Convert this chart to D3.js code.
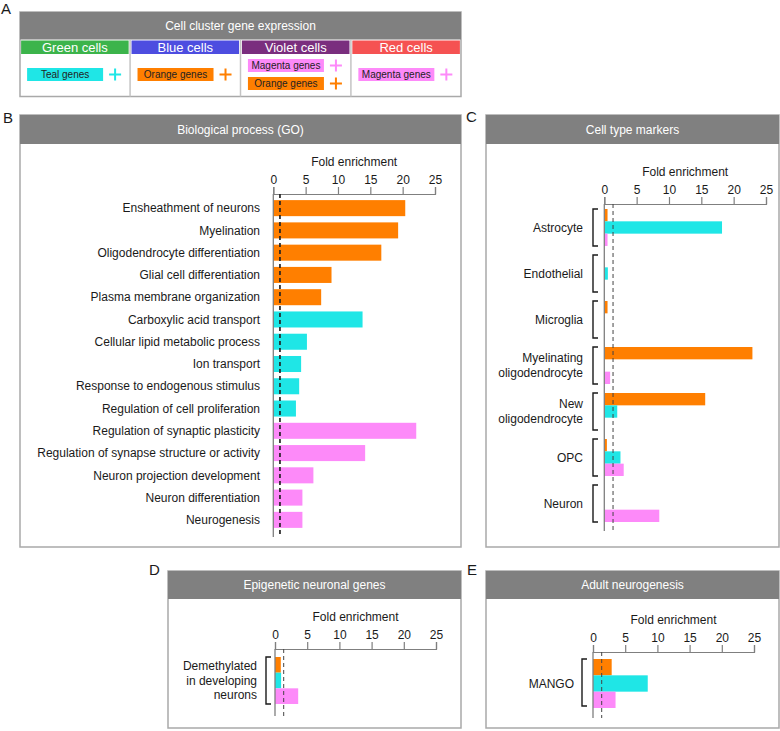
<!DOCTYPE html>
<html>
<head>
<meta charset="utf-8">
<script src="https://cdn.jsdelivr.net/npm/d3@7"></script>
<style>
  body { margin: 0; background: #fff; }
  text { font-family: "Liberation Sans", Arial, sans-serif; }
</style>
</head>
<body>
<svg id="fig"></svg>
<script>
/* global d3 */
// ---- data ----
const clusters = ["Green cells", "Blue cells", "Violet cells", "Red cells"];
const clusterGenes = [["Teal genes"], ["Orange genes"], ["Magenta genes", "Orange genes"], ["Magenta genes"]];

const goTerms = [
    "Ensheathment of neurons", "Myelination", "Oligodendrocyte differentiation",
    "Glial cell differentiation", "Plasma membrane organization",
    "Carboxylic acid transport", "Cellular lipid metabolic process", "Ion transport",
    "Response to endogenous stimulus", "Regulation of cell proliferation",
    "Regulation of synaptic plasticity", "Regulation of synapse structure or activity",
    "Neuron projection development", "Neuron differentiation", "Neurogenesis"
];
const goValues = [20.4, 19.3, 16.7, 9.0, 7.4, 13.8, 5.2, 4.3, 4.0, 3.5, 22.1, 14.2, 6.2, 4.5, 4.5];
const goSets = ["orange", "orange", "orange", "orange", "orange",
    "teal", "teal", "teal", "teal", "teal",
    "magenta", "magenta", "magenta", "magenta", "magenta"];

const cellTypes = ["Astrocyte", "Endothelial", "Microglia", "Myelinating\noligodendrocyte",
    "New\noligodendrocyte", "OPC", "Neuron"];
const cellOrange = [0.5, null, 0.5, 22.9, 15.6, 0.4, null];
const cellTeal = [18.2, 0.55, null, null, 2.0, 2.5, null];
const cellMagenta = [0.5, null, null, 0.9, null, 3.0, 8.5];

const epiLabel = "Demethylated\nin developing\nneurons";
const epiValues = [0.9, 0.95, 3.6];   // orange, teal, magenta
const mangoValues = [2.9, 8.5, 3.5];  // orange, teal, magenta

const foldTicks = [0, 5, 10, 15, 20, 25];
const cutoffs = [1.03, 1.35, 1.35, 1.35]; // B, C, D, E

// ---- styles ----
const setOrder = ["orange", "teal", "magenta"];
const setColor = {orange: "#ff7f00", teal: "#1fe6e6", magenta: "#fd8af9"};
const geneColor = {"Orange genes": setColor.orange, "Teal genes": setColor.teal, "Magenta genes": setColor.magenta};
const clusterColor = ["#3cb44b", "#4d4de0", "#7a2e7e", "#f55252"];
const headGray = "#808080", boxGray = "#a9a9a9", axisGray = "#7f7f7f", ink = "#1a1a1a";

const svg = d3.select("#fig").attr("width", 780).attr("height", 731);

function letter(t, x, y) {
    svg.append("text").attr("x", x).attr("y", y).attr("fill", ink)
        .style("font-size", "15px").text(t);
}

function panel(x, y, w, h, hh, title) {
    svg.append("rect").attr("x", x).attr("y", y).attr("width", w).attr("height", h)
        .attr("fill", "#fff").attr("stroke", boxGray).attr("stroke-width", 1.5);
    svg.append("rect").attr("x", x).attr("y", y).attr("width", w).attr("height", hh)
        .attr("fill", headGray);
    svg.append("text").attr("x", x + w / 2).attr("y", y + hh / 2).attr("dy", "0.35em")
        .attr("text-anchor", "middle").attr("fill", "#fff").style("font-size", "12px").text(title);
}

function foldAxis(x0, x1, yAxis, labelY) {
    const x = d3.scaleLinear().domain([0, 25]).range([x0, x1]);
    const ax = svg.append("g").attr("transform", `translate(0,${yAxis})`)
        .call(d3.axisTop(x).tickValues(foldTicks).tickSize(7).tickPadding(3));
    ax.select(".domain").attr("stroke", axisGray).attr("stroke-width", 1.2);
    ax.selectAll(".tick line").attr("stroke", axisGray).attr("stroke-width", 1.2);
    ax.selectAll(".tick text").attr("fill", ink).style("font-size", "12px")
        .style("font-family", '"Liberation Sans", Arial, sans-serif');
    svg.append("text").attr("x", (x0 + x1) / 2).attr("y", labelY).attr("dy", "0.35em")
        .attr("text-anchor", "middle").attr("fill", ink).style("font-size", "12px")
        .text("Fold enrichment");
    return x;
}

function guides(x, y0, y1, cut, bold) {
    svg.append("line").attr("x1", x(0)).attr("x2", x(0)).attr("y1", y0).attr("y2", y1)
        .attr("stroke", axisGray).attr("stroke-width", 1.3);
    svg.append("line").attr("x1", x(cut)).attr("x2", x(cut)).attr("y1", y0).attr("y2", y1)
        .attr("stroke", bold ? "#222" : "#444").attr("stroke-width", bold ? 1.7 : 1)
        .attr("stroke-dasharray", "4,3");
}

function bracket(x, y0, y1) {
    svg.append("path").attr("d", `M${x + 5},${y0}H${x}V${y1}H${x + 5}`)
        .attr("fill", "none").attr("stroke", ink).attr("stroke-width", 1.4);
}

function multiLabel(text, x, yc, lh) {
    const lines = text.split("\n");
    lines.forEach((ln, i) => {
        svg.append("text").attr("x", x).attr("y", yc + (i - (lines.length - 1) / 2) * lh)
            .attr("dy", "0.35em").attr("text-anchor", "end").attr("fill", ink)
            .style("font-size", "12px").text(ln);
    });
}

// ---- A: cell cluster legend ----
letter("A", 1, 14);
panel(20, 12, 441, 84.5, 27.5, "Cell cluster gene expression");
const colX = d3.scaleBand().domain(clusters).range([20, 461]).paddingInner(0.026).paddingOuter(0.01);
clusters.forEach((c, i) => {
    const cx = colX(c), bw = colX.bandwidth();
    if (i > 0) {
        const gx = cx - (colX.step() - bw) / 2;
        svg.append("line").attr("x1", gx).attr("x2", gx).attr("y1", 40).attr("y2", 96.5)
            .attr("stroke", "#c4c4c4").attr("stroke-width", 1.5);
    }
    svg.append("rect").attr("x", cx).attr("y", 40.5).attr("width", bw).attr("height", 13.5)
        .attr("fill", clusterColor[i]);
    svg.append("text").attr("x", cx + bw / 2).attr("y", 47.3).attr("dy", "0.35em")
        .attr("text-anchor", "middle").attr("fill", "#fff").style("font-size", "13px").text(c);
    const genes = clusterGenes[i];
    genes.forEach((gn, j) => {
        const yc = 74.5 + (j - (genes.length - 1) / 2) * 18;
        svg.append("rect").attr("x", cx + 6).attr("y", yc - 6.5).attr("width", 76).attr("height", 13)
            .attr("fill", geneColor[gn]);
        svg.append("text").attr("x", cx + 44).attr("y", yc).attr("dy", "0.35em")
            .attr("text-anchor", "middle").attr("fill", "#222").style("font-size", "10px").text(gn);
        const px = cx + 94;
        svg.append("path").attr("d", `M${px - 6},${yc}H${px + 6}M${px},${yc - 6}V${yc + 6}`)
            .attr("stroke", geneColor[gn]).attr("stroke-width", 2);
    });
});

// ---- B: GO biological process ----
letter("B", 3, 123);
panel(20, 115, 441, 432, 29, "Biological process (GO)");
const xB = foldAxis(273.3, 435, 194, 162);
const yB = d3.scaleBand().domain(goTerms).range([197, 531]).paddingInner(0.28).paddingOuter(0.14);
svg.append("g").selectAll("rect").data(goTerms).enter().append("rect")
    .attr("x", xB(0)).attr("y", d => yB(d))
    .attr("width", (d, i) => xB(goValues[i]) - xB(0)).attr("height", yB.bandwidth())
    .attr("fill", (d, i) => setColor[goSets[i]]);
svg.append("g").selectAll("text").data(goTerms).enter().append("text")
    .attr("x", 260).attr("y", d => yB(d) + yB.bandwidth() / 2).attr("dy", "0.35em")
    .attr("text-anchor", "end").attr("fill", ink).style("font-size", "12px").text(d => d);
guides(xB, 194, 537, cutoffs[0], true);

// ---- C: cell type markers ----
letter("C", 466, 122);
panel(486, 115, 293, 432, 29, "Cell type markers");
const xC = foldAxis(604.3, 766, 204, 172);
const yC = d3.scaleBand().domain(cellTypes).range([204.4, 526.6]).paddingInner(0.196).paddingOuter(0.1);
const slot = d3.scaleBand().domain(setOrder).range([0, yC.bandwidth()]);
const cellSets = {orange: cellOrange, teal: cellTeal, magenta: cellMagenta};
setOrder.forEach(s => {
    svg.append("g").selectAll("rect")
        .data(cellTypes.map((c, i) => ({c, v: cellSets[s][i]})).filter(d => d.v !== null))
        .enter().append("rect")
        .attr("x", xC(0)).attr("y", d => yC(d.c) + slot(s))
        .attr("width", d => xC(d.v) - xC(0)).attr("height", slot.bandwidth())
        .attr("fill", setColor[s]);
});
cellTypes.forEach(c => {
    bracket(593, yC(c), yC(c) + yC.bandwidth());
    multiLabel(c, 583, yC(c) + yC.bandwidth() / 2, 15);
});
guides(xC, 204, 531, cutoffs[1], false);

// ---- D: epigenetic neuronal genes ----
letter("D", 149, 575);
panel(168, 571, 293, 157, 28, "Epigenetic neuronal genes");
const xD = foldAxis(275, 436, 649, 617);
const yD = d3.scaleBand().domain(setOrder).range([657, 704]);
svg.append("g").selectAll("rect").data(setOrder).enter().append("rect")
    .attr("x", xD(0)).attr("y", d => yD(d))
    .attr("width", (d, i) => xD(epiValues[i]) - xD(0)).attr("height", yD.bandwidth())
    .attr("fill", d => setColor[d]);
bracket(266, 657, 704);
multiLabel(epiLabel, 257, 680.5, 14.5);
guides(xD, 649, 716, cutoffs[2], false);

// ---- E: adult neurogenesis ----
letter("E", 467, 575);
panel(486, 571, 293, 157, 28, "Adult neurogenesis");
const xE = foldAxis(593, 754, 652, 620);
const yE = d3.scaleBand().domain(setOrder).range([659, 708]);
svg.append("g").selectAll("rect").data(setOrder).enter().append("rect")
    .attr("x", xE(0)).attr("y", d => yE(d))
    .attr("width", (d, i) => xE(mangoValues[i]) - xE(0)).attr("height", yE.bandwidth())
    .attr("fill", d => setColor[d]);
bracket(582, 659, 706);
multiLabel("MANGO", 574, 684, 15);
guides(xE, 652, 718, cutoffs[3], false);
</script>
</body>
</html>
